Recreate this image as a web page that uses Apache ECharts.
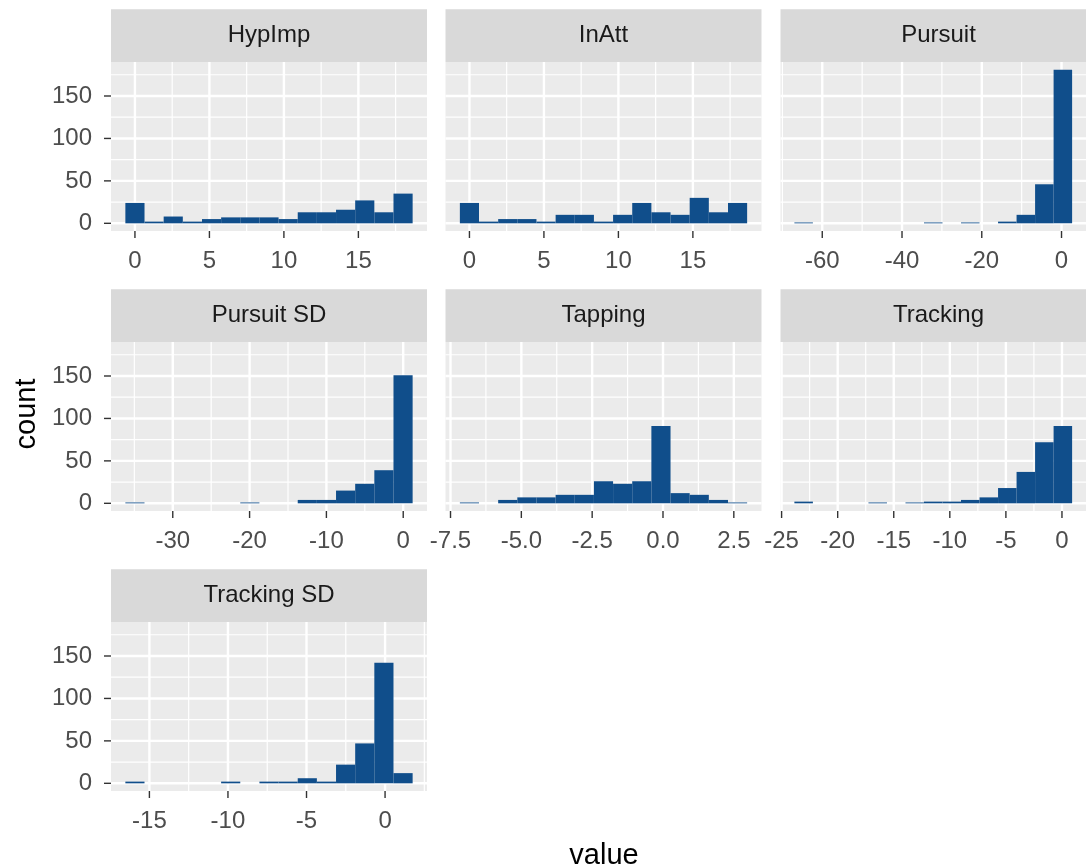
<!DOCTYPE html>
<html><head><meta charset="utf-8">
<script src="https://cdn.jsdelivr.net/npm/echarts@6/dist/echarts.min.js"></script>
<style>html,body{margin:0;padding:0;background:#fff}#c{width:1086px;height:868px}</style>
</head><body><div id="c"></div>
<script>
// ---------- data ----------
const panelNames = ['HypImp', 'InAtt', 'Pursuit', 'Pursuit SD', 'Tapping', 'Tracking', 'Tracking SD'];
// counts per bin (15 bins each)
const hypImpCounts     = [24, 2, 8, 2, 5, 7, 7, 7, 5, 13, 13, 16, 27, 13, 35];
const inAttCounts      = [24, 2, 5, 5, 2, 10, 10, 2, 10, 24, 13, 10, 30, 13, 24];
const pursuitCounts    = [1, 0, 0, 0, 0, 0, 0, 1, 0, 1, 0, 2, 10, 46, 181];
const pursuitSDCounts  = [1, 0, 0, 0, 0, 0, 1, 0, 0, 4, 4, 15, 23, 39, 151];
const tappingCounts    = [1, 0, 4, 7, 7, 10, 10, 26, 23, 26, 91, 12, 10, 4, 1];
const trackingCounts   = [2, 0, 0, 0, 1, 0, 1, 2, 2, 4, 7, 18, 37, 72, 91];
const trackingSDCounts = [2, 0, 0, 0, 0, 2, 0, 2, 2, 6, 2, 22, 47, 142, 12];
// left edge of first bin and bin width, per panel
const binStarts = [-0.643, -0.643, -66.99, -36.17, -7.17, -23.86, -16.53];
const binWidths = [1.2857, 1.2857, 4.643, 2.493, 0.676, 1.651, 1.219];
// x tick values and labels
const hypImpTicks = [0, 5, 10, 15];
const inAttTicks = [0, 5, 10, 15];
const pursuitTicks = [-60, -40, -20, 0];
const pursuitSDTicks = [-30, -20, -10, 0];
const tappingTicks = [-7.5, -5, -2.5, 0, 2.5];
const tappingTickLabels = ['-7.5', '-5.0', '-2.5', '0.0', '2.5'];
const trackingTicks = [-25, -20, -15, -10, -5, 0];
const trackingSDTicks = [-15, -10, -5, 0];
const yTicks = [0, 50, 100, 150];
const yLabel = 'count';
const xLabel = 'value';

const allCounts = [hypImpCounts, inAttCounts, pursuitCounts, pursuitSDCounts, tappingCounts, trackingCounts, trackingSDCounts];
const allTicks = [hypImpTicks, inAttTicks, pursuitTicks, pursuitSDTicks, tappingTicks, trackingTicks, trackingSDTicks];
const allTickLabels = [null, null, null, null, tappingTickLabels, null, null];

// ---------- layout ----------
const colLeft = [111, 445.5, 780.5];
const stripTop = [9.3, 289.3, 569.3];
const stripH = 52.7, panelW = 316, panelH = 169;
const tickFont = 24, stripFont = 24, titleFont = 29;
const FONT = '"Liberation Sans", Arial, Helvetica, sans-serif';
const barColor = '#104E8B';

const maxCount = Math.max(...allCounts.map(a => Math.max(...a)));
const yMin = -0.05 * maxCount, yMax = maxCount * 1.05;

function minorBreaks(major, lo, hi) {
  const b = major.slice();
  const d = b[1] - b[0];
  b.unshift(b[0] - d); b.push(b[b.length - 1] + d);
  const out = [];
  for (let i = 0; i < b.length - 1; i++) {
    const m = (b[i] + b[i + 1]) / 2;
    if (m >= lo && m <= hi) out.push(m);
  }
  return out;
}

const TICK_LEN = 7;
const grids = [], xAxes = [], yAxes = [], series = [], graphics = [];
panelNames.forEach((name, i) => {
  const row = Math.floor(i / 3), col = i % 3;
  const counts = allCounts[i];
  const start = binStarts[i], bw = binWidths[i];
  const lo = start, hi = start + counts.length * bw;
  const ex = 0.05 * (hi - lo);
  const xmin = lo - ex, xmax = hi + ex;
  const top = stripTop[row] + stripH;
  grids.push({ left: colLeft[col], top: top, width: panelW, height: panelH,
    show: true, backgroundColor: '#EBEBEB', borderWidth: 0, containLabel: false });
  const ticks = allTicks[i], labels = allTickLabels[i];
  xAxes.push({ type: 'value', gridIndex: i, min: xmin, max: xmax,
    axisLine: { show: false },
    axisTick: { show: false },
    axisLabel: { show: true, customValues: ticks, margin: 18, color: '#4D4D4D', fontSize: tickFont, fontFamily: FONT,
      formatter: v => { const k = ticks.findIndex(t => Math.abs(t - v) < 1e-9); return labels ? labels[k] : String(v); } },
    splitLine: { show: false } });
  const showY = col === 0;
  yAxes.push({ type: 'value', gridIndex: i, min: yMin, max: yMax,
    axisLine: { show: false },
    axisTick: { show: false },
    axisLabel: { show: showY, customValues: yTicks, margin: 19, color: '#4D4D4D', fontSize: tickFont, fontFamily: FONT },
    splitLine: { show: false } });
  // grid lines: minor then major
  const vLines = minorBreaks(ticks, xmin, xmax).map(v => [v, 0]).concat(ticks.map(v => [v, 1]));
  const hLines = minorBreaks(yTicks, yMin, yMax).map(v => [v, 0]).concat(yTicks.map(v => [v, 1]));
  series.push({ type: 'custom', xAxisIndex: i, yAxisIndex: i, silent: true, animation: false, clip: true,
    data: vLines, encode: { x: 0 },
    renderItem: (params, api) => {
      const cs = params.coordSys;
      const x = api.coord([api.value(0), 0])[0];
      return { type: 'line', shape: { x1: x, y1: cs.y, x2: x, y2: cs.y + cs.height },
        style: { stroke: '#FFFFFF', lineWidth: api.value(1) ? 2.4 : 1.2 } };
    } });
  series.push({ type: 'custom', xAxisIndex: i, yAxisIndex: i, silent: true, animation: false, clip: true,
    data: hLines.map(d => [xmin, d[0], d[1]]), encode: { x: 0, y: 1 },
    renderItem: (params, api) => {
      const cs = params.coordSys;
      const y = api.coord([xmin, api.value(1)])[1];
      return { type: 'line', shape: { x1: cs.x, y1: y, x2: cs.x + cs.width, y2: y },
        style: { stroke: '#FFFFFF', lineWidth: api.value(2) ? 2.4 : 1.2 } };
    } });
  // axis tick marks (outside the panel), placed through the axis scales
  series.push({ type: 'custom', xAxisIndex: i, yAxisIndex: i, silent: true, animation: false, clip: false,
    data: ticks.map(v => [v]), encode: { x: 0 },
    renderItem: (params, api) => {
      const cs = params.coordSys;
      const x = api.coord([api.value(0), 0])[0];
      const yb = cs.y + cs.height;
      return { type: 'line', shape: { x1: x, y1: yb, x2: x, y2: yb + TICK_LEN },
        style: { stroke: '#333333', lineWidth: 1.4 } };
    } });
  if (showY) {
    series.push({ type: 'custom', xAxisIndex: i, yAxisIndex: i, silent: true, animation: false, clip: false,
      data: yTicks.map(v => [xmin, v]), encode: { x: 0, y: 1 },
      renderItem: (params, api) => {
        const cs = params.coordSys;
        const y = api.coord([xmin, api.value(1)])[1];
        return { type: 'line', shape: { x1: cs.x - TICK_LEN, y1: y, x2: cs.x, y2: y },
          style: { stroke: '#333333', lineWidth: 1.4 } };
      } });
  }
  // bars
  const barData = counts.map((c, k) => [start + k * bw, start + (k + 1) * bw, c]);
  series.push({ type: 'custom', xAxisIndex: i, yAxisIndex: i, animation: false, clip: true,
    data: barData, encode: { x: [0, 1], y: 2 },
    renderItem: (params, api) => {
      const p0 = api.coord([api.value(0), api.value(2)]);
      const p1 = api.coord([api.value(1), 0]);
      return { type: 'rect', shape: { x: p0[0], y: p0[1], width: p1[0] - p0[0], height: p1[1] - p0[1] },
        style: { fill: barColor } };
    } });
  // strip
  graphics.push({ type: 'rect', shape: { x: colLeft[col], y: stripTop[row], width: panelW, height: stripH },
    style: { fill: '#D9D9D9' }, silent: true });
  graphics.push({ type: 'text', x: colLeft[col] + panelW / 2, y: stripTop[row] + stripH / 2,
    style: { text: name, fill: '#1A1A1A', fontSize: stripFont, fontFamily: FONT, align: 'center', verticalAlign: 'middle' }, silent: true });
});

graphics.push({ type: 'text', x: 27, y: 414, rotation: Math.PI / 2,
  style: { text: yLabel, fill: '#000000', fontSize: titleFont, fontFamily: FONT, align: 'center', verticalAlign: 'middle' } });
graphics.push({ type: 'text', x: 604, y: 856,
  style: { text: xLabel, fill: '#000000', fontSize: titleFont, fontFamily: FONT, align: 'center', verticalAlign: 'middle' } });

const chart = echarts.init(document.getElementById('c'), null, { renderer: 'canvas' });
chart.setOption({ animation: false, backgroundColor: '#FFFFFF', grid: grids, xAxis: xAxes, yAxis: yAxes, series: series, graphic: graphics });
</script>
</body></html>
